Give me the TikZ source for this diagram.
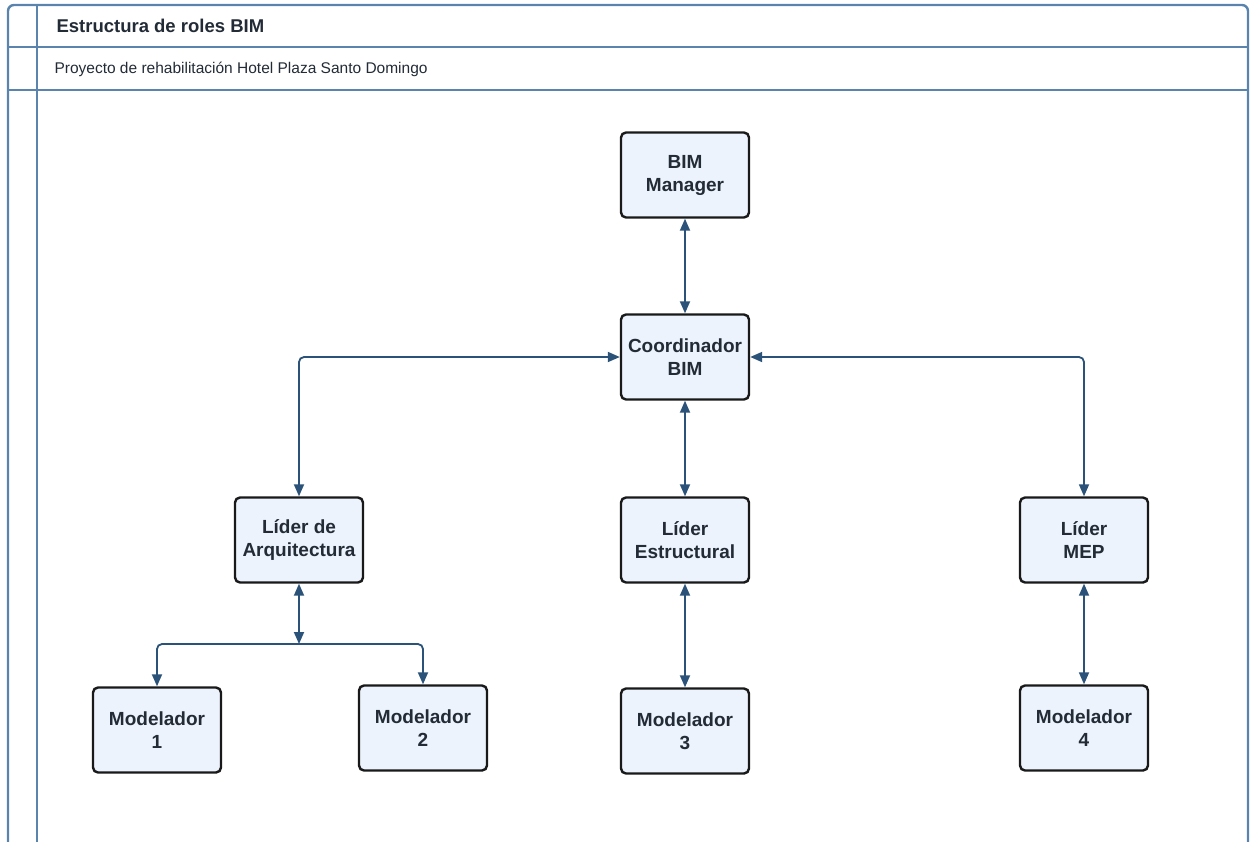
\documentclass[tikz,border=0pt]{standalone}
\usepackage{fontspec}
\setmainfont{Liberation Sans}
\usetikzlibrary{arrows.meta}

\definecolor{framecol}{HTML}{5A84AD}
\definecolor{linkcol}{HTML}{2B5278}
\definecolor{boxfill}{HTML}{EDF3FC}
\definecolor{textcol}{HTML}{222B36}

\begin{document}
\begin{tikzpicture}[x=1pt, y=-1pt,
    role/.style={draw=black!90, line width=2.4pt, fill=boxfill, rounded corners=5pt,
      minimum width=128pt, minimum height=85pt, align=center, text=textcol,
      font=\fontsize{19}{23}\selectfont\bfseries},
    link/.style={draw=linkcol, line width=1.8pt, rounded corners=5pt,
      {Triangle[length=12pt,width=10pt]}-{Triangle[length=12pt,width=10pt]}}]
    \useasboundingbox (0,0) rectangle (1250,841);

    % frame of the sheet
    \draw[framecol, line width=2.4pt, rounded corners=6pt] (8,860) -- (8,5) -- (1248,5) -- (1248,860);
    \draw[framecol, line width=2.4pt] (37,5) -- (37,860);
    \draw[framecol, line width=2.4pt] (8,47) -- (1248,47);
    \draw[framecol, line width=2.4pt] (8,90) -- (1248,90);
    \node[anchor=west, text=textcol, font=\fontsize{18.5}{22}\selectfont\bfseries] (title) at (53,26) {Estructura de roles BIM};
    \node[anchor=west, text=textcol, font=\fontsize{15.5}{18}\selectfont] (subtitle) at (51,69) {Proyecto de rehabilitación Hotel Plaza Santo Domingo};

    % roles
    \node[role] (mgr) at (685,175) {BIM\\Manager};
    \node[role] (coord) at (685,357) {Coordinador\\BIM};
    \node[role] (larq) at (299,540) {Líder de\\Arquitectura};
    \node[role] (lest) at (685,540) {Líder\\Estructural};
    \node[role] (lmep) at (1084,540) {Líder\\MEP};
    \node[role] (mod1) at (157,730) {Modelador\\1};
    \node[role] (mod2) at (423,728) {Modelador\\2};
    \node[role] (mod3) at (685,731) {Modelador\\3};
    \node[role] (mod4) at (1084,728) {Modelador\\4};
    \coordinate (split) at (299,644);

    % links
    \draw[link] (mgr) -- (coord);
    \draw[link] (coord.west) -| (larq.north);
    \draw[link] (coord.east) -| (lmep.north);
    \draw[link] (coord) -- (lest);
    \draw[link] (larq) -- (split);
    \draw[link] (mod1.north) |- (split) -| (mod2.north);
    \draw[link] (lest) -- (mod3);
    \draw[link] (lmep) -- (mod4);
\end{tikzpicture}
\end{document}
